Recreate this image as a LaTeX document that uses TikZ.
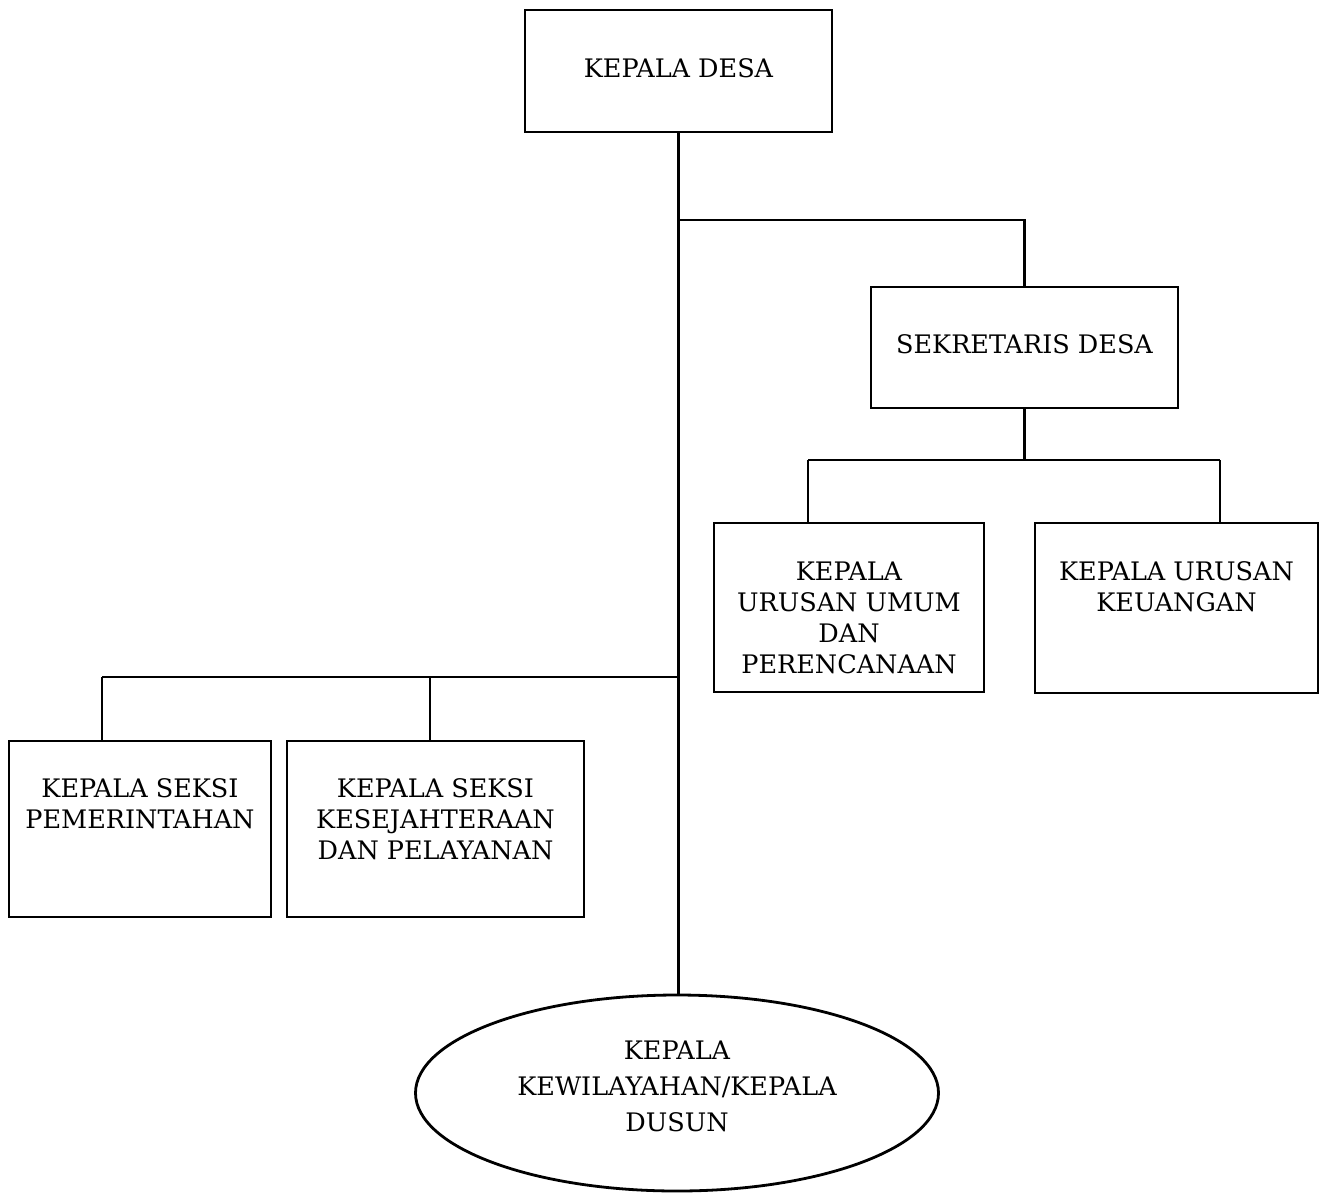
\documentclass[tikz,border=0pt]{standalone}
\usepackage{fontspec}
\setmainfont{DejaVu Serif}
\usetikzlibrary{shapes.geometric}
\newcommand{\topalignbox}[4]{\parbox[c][#2][t]{#1}{\centering\vspace*{#3}#4\par}}
\newcommand{\midalignbox}[3]{\parbox[c][#2][c]{#1}{\centering #3\par\vspace*{6pt}}}
\tikzset{
  orgbox/.style={draw, rectangle, line width=2.8pt, inner sep=0pt, outer sep=0pt},
  link/.style={line width=2.6pt},
  txt/.style={font=\fontsize{25.5pt}{31pt}\selectfont},
  eltxt/.style={font=\fontsize{25.5pt}{36pt}\selectfont, align=center, inner sep=0pt}
}
\begin{document}
\begin{tikzpicture}[x=1pt,y=-1pt]
\useasboundingbox (0,0) rectangle (1325,1194);
% boxes
\node[orgbox, txt] (kd) at (678.5,71) {\midalignbox{307pt}{122pt}{KEPALA DESA}};
\node[orgbox, txt] (sd) at (1024.5,347.5) {\midalignbox{307pt}{121pt}{SEKRETARIS DESA}};
\node[orgbox, txt] (ku) at (849,607.5) {\topalignbox{270pt}{169pt}{39pt}{KEPALA\\URUSAN UMUM\\DAN\\PERENCANAAN}};
\node[orgbox, txt] (kk) at (1176.5,608) {\topalignbox{283pt}{170pt}{39pt}{KEPALA URUSAN\\KEUANGAN}};
\node[orgbox, txt] (sp) at (140,829) {\topalignbox{262pt}{176pt}{38pt}{KEPALA SEKSI\\PEMERINTAHAN}};
\node[orgbox, txt] (sk) at (435.5,829) {\topalignbox{297pt}{176pt}{38pt}{KEPALA SEKSI\\KESEJAHTERAAN\\DAN PELAYANAN}};
\node[draw, ellipse, line width=2.8pt, minimum width=523pt, minimum height=196pt, inner sep=0pt] (du) at (677,1093) {};
\node[eltxt] (dutext) at ([yshift=7pt]du.center) {KEPALA\\KEWILAYAHAN/KEPALA\\DUSUN};
% junction coordinates
\coordinate (j1) at (678.5,220);
\coordinate (h2l) at (808,460);
\coordinate (h2r) at (1220,460);
\coordinate (j3) at (678.5,677);
\coordinate (h3l) at (102,677);
\coordinate (h3m) at (430,677);
% connectors
\draw[link] (kd.south) -- (kd.south |- du.north);
\draw[link] (j1) -| (sd.north);
\draw[link] (sd.south) -- (sd.south |- h2l);
\draw[link] (h2l) -- (h2r);
\draw[link] (h2l) -- (h2l |- ku.north);
\draw[link] (h2r) -- (h2r |- kk.north);
\draw[link] (j3) -- (h3l);
\draw[link] (h3l) -- (h3l |- sp.north);
\draw[link] (h3m) -- (h3m |- sk.north);
\end{tikzpicture}
\end{document}
